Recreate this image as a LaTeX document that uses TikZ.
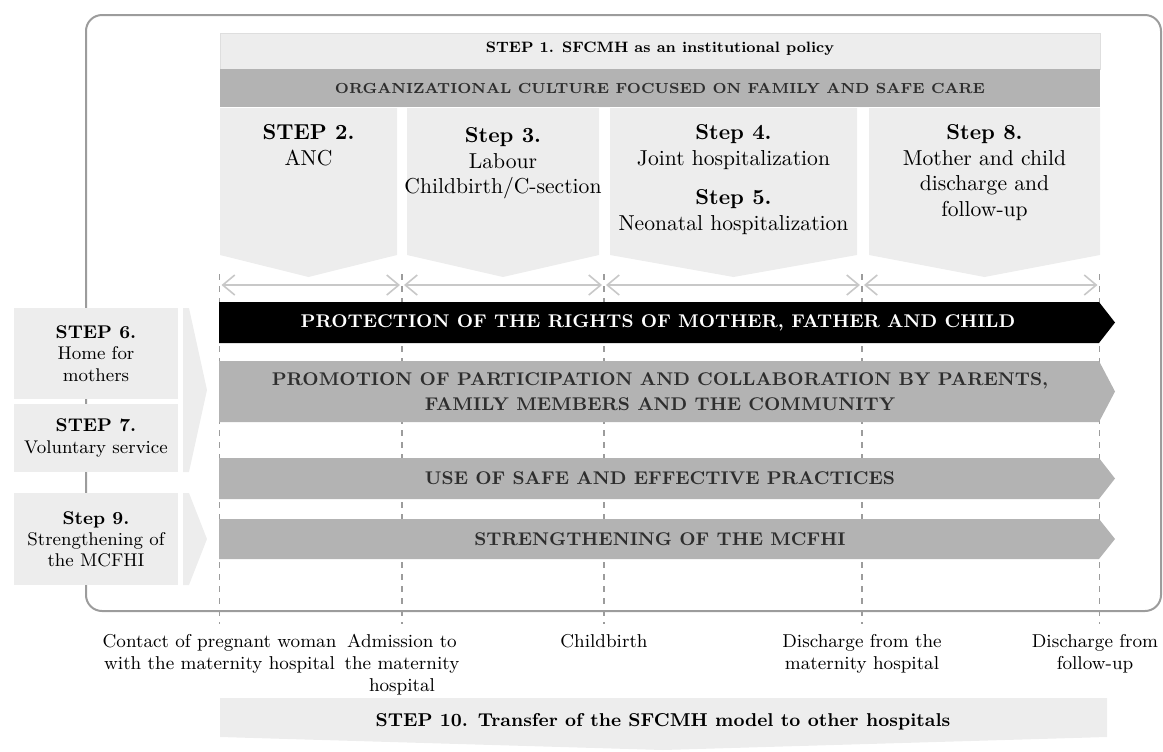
\documentclass[tikz,border=0pt]{standalone}
\usepackage{xcolor}
\usepackage{tikz}
\usetikzlibrary{arrows.meta,positioning}

\definecolor{framegray}{HTML}{9C9C9C}
\definecolor{palegray}{HTML}{EDEDED}
\definecolor{edgegray}{HTML}{DEDEDE}
\definecolor{bargray}{HTML}{B3B3B3}
\definecolor{darktext}{HTML}{2E2E2E}
\definecolor{spangray}{HTML}{C8C8C8}

\begin{document}
\begin{tikzpicture}[x=0.5pt, y=-0.5pt,
  pale/.style={fill=palegray},
  band/.style={fill=bargray},
  sidebox/.style={fill=palegray, align=center, inner sep=0pt, minimum width=82pt,
    font=\fontsize{9.2}{10.6}\selectfont},
  steptext/.style={anchor=north, align=center, inner sep=0pt,
    font=\fontsize{10.8}{12.8}\selectfont},
  bandtext/.style={align=center, inner sep=0pt, text=darktext,
    font=\fontsize{9.2}{12.5}\selectfont\bfseries},
  toptext/.style={align=center, inner sep=0pt, font=\fontsize{7.5}{9}\selectfont\bfseries},
  eventtext/.style={anchor=north, align=center, inner sep=0pt,
    font=\fontsize{9.3}{11}\selectfont},
  marker/.style={framegray, dash pattern=on 3pt off 3pt, line width=0.6pt},
  span/.style={{Straight Barb[length=6pt,width=10pt]}-{Straight Barb[length=6pt,width=10pt]},
    spangray, line width=0.8pt, shorten <=1pt, shorten >=1pt}
]
\useasboundingbox (0,0) rectangle (1163,751);

% outer frame
\draw[framegray, line width=1pt, rounded corners=8pt] (86,15) rectangle (1161,611);

% time markers
\coordinate (m1) at (219.5,285);
\coordinate (m2) at (402,285);
\coordinate (m3) at (604,285);
\coordinate (m4) at (862,285);
\coordinate (m5) at (1099.5,285);
\draw[marker] (m1 |- 0,274) -- (m1 |- 0,624);
\draw[marker] (m2 |- 0,274) -- (m2 |- 0,624);
\draw[marker] (m3 |- 0,274) -- (m3 |- 0,624);
\draw[marker] (m4 |- 0,274) -- (m4 |- 0,624);
\draw[marker] (m5 |- 0,274) -- (m5 |- 0,624);
\draw[span] (m1) -- (m2);
\draw[span] (m2) -- (m3);
\draw[span] (m3) -- (m4);
\draw[span] (m4) -- (m5);

% step 1 and culture
\fill[pale, draw=edgegray] (220,33) rectangle (1100,69);
\fill[band] (220,69) rectangle (1100,107);
\node (s1) [toptext] at (660,49) {STEP 1. SFCMH as an institutional policy};
\node (culture) [toptext, text=darktext, font=\fontsize{7.3}{9}\selectfont\bfseries] at (660,88)
  {ORGANIZATIONAL CULTURE FOCUSED ON FAMILY AND SAFE CARE};

% stage chevrons
\fill[pale] (220,108) -- (397,108) -- (397,255) -- (308.5,277) -- (220,255) -- cycle;
\fill[pale] (407,108) -- (599,108) -- (599,255) -- (503,277) -- (407,255) -- cycle;
\fill[pale] (610,108) -- (857,108) -- (857,255) -- (733.5,277) -- (610,255) -- cycle;
\fill[pale] (869,108) -- (1100,108) -- (1100,255) -- (984.5,277) -- (869,255) -- cycle;
\node (s2) [steptext] at (308.5,124) {\textbf{STEP 2.}\\ANC};
\node (s3) [steptext] at (503,127) {\textbf{Step 3.}\\Labour\\Childbirth/C-section};
\node (s4) [steptext] at (733.5,124)
  {\textbf{Step 4.}\\Joint hospitalization\\[7pt]\textbf{Step 5.}\\Neonatal hospitalization};
\node (s8) [steptext] at (984.5,124)
  {\textbf{Step 8.}\\Mother and child\\discharge and\\follow-up};

% cross-cutting bands
\fill[black] (219,302) -- (1099,302) -- (1115,322.5) -- (1099,343) -- (219,343) -- cycle;
\fill[band] (219,361) -- (1099,361) -- (1115,391.5) -- (1099,422) -- (219,422) -- cycle;
\fill[band] (219,458) -- (1099,458) -- (1115,478.5) -- (1099,499) -- (219,499) -- cycle;
\fill[band] (219,519) -- (1099,519) -- (1115,539) -- (1099,559) -- (219,559) -- cycle;
\node (rights) [bandtext, text=white] at (658,322.5)
  {PROTECTION OF THE RIGHTS OF MOTHER, FATHER AND CHILD};
\node (partic) [bandtext] at (660,391.5)
  {PROMOTION OF PARTICIPATION AND COLLABORATION BY PARENTS,\\FAMILY MEMBERS AND THE COMMUNITY};
\node (safe) [bandtext] at (660,478.5) {USE OF SAFE AND EFFECTIVE PRACTICES};
\node (mcfhi) [bandtext] at (660,539) {STRENGTHENING OF THE MCFHI};

% side steps
\node (s6) [sidebox, minimum height=45.5pt] at (96,353.5)
  {\textbf{STEP 6.}\\Home for\\mothers};
\node (s7) [sidebox, minimum height=34pt] at (96,438)
  {\textbf{STEP 7.}\\Voluntary service};
\node (s9) [sidebox, minimum height=46pt] at (96,539)
  {\textbf{Step 9.}\\Strengthening of\\the MCFHI};
\fill[pale] (183,308) -- (189,308) -- (207,390) -- (189,472) -- (183,472) -- cycle;
\fill[pale] (183,493) -- (189,493) -- (207,539) -- (189,585) -- (183,585) -- cycle;

% events
\node (e1) [eventtext] at (m1 |- 0,634) {Contact of pregnant woman\\with the maternity hospital};
\node (e2) [eventtext] at (m2 |- 0,634) {Admission to\\the maternity\\hospital};
\node (e3) [eventtext] at (m3 |- 0,634) {Childbirth};
\node (e4) [eventtext] at (m4 |- 0,634) {Discharge from the\\maternity hospital};
\node (e5) [eventtext] at (1095,634) {Discharge from\\follow-up};

% step 10
\fill[pale] (220,698) -- (1107,698) -- (1107,737) -- (663,750) -- (220,737) -- cycle;
\node (s10) [bandtext, text=black, font=\fontsize{9.3}{11}\selectfont\bfseries] at (663,722)
  {STEP 10. Transfer of the SFCMH model to other hospitals};
\end{tikzpicture}
\end{document}
